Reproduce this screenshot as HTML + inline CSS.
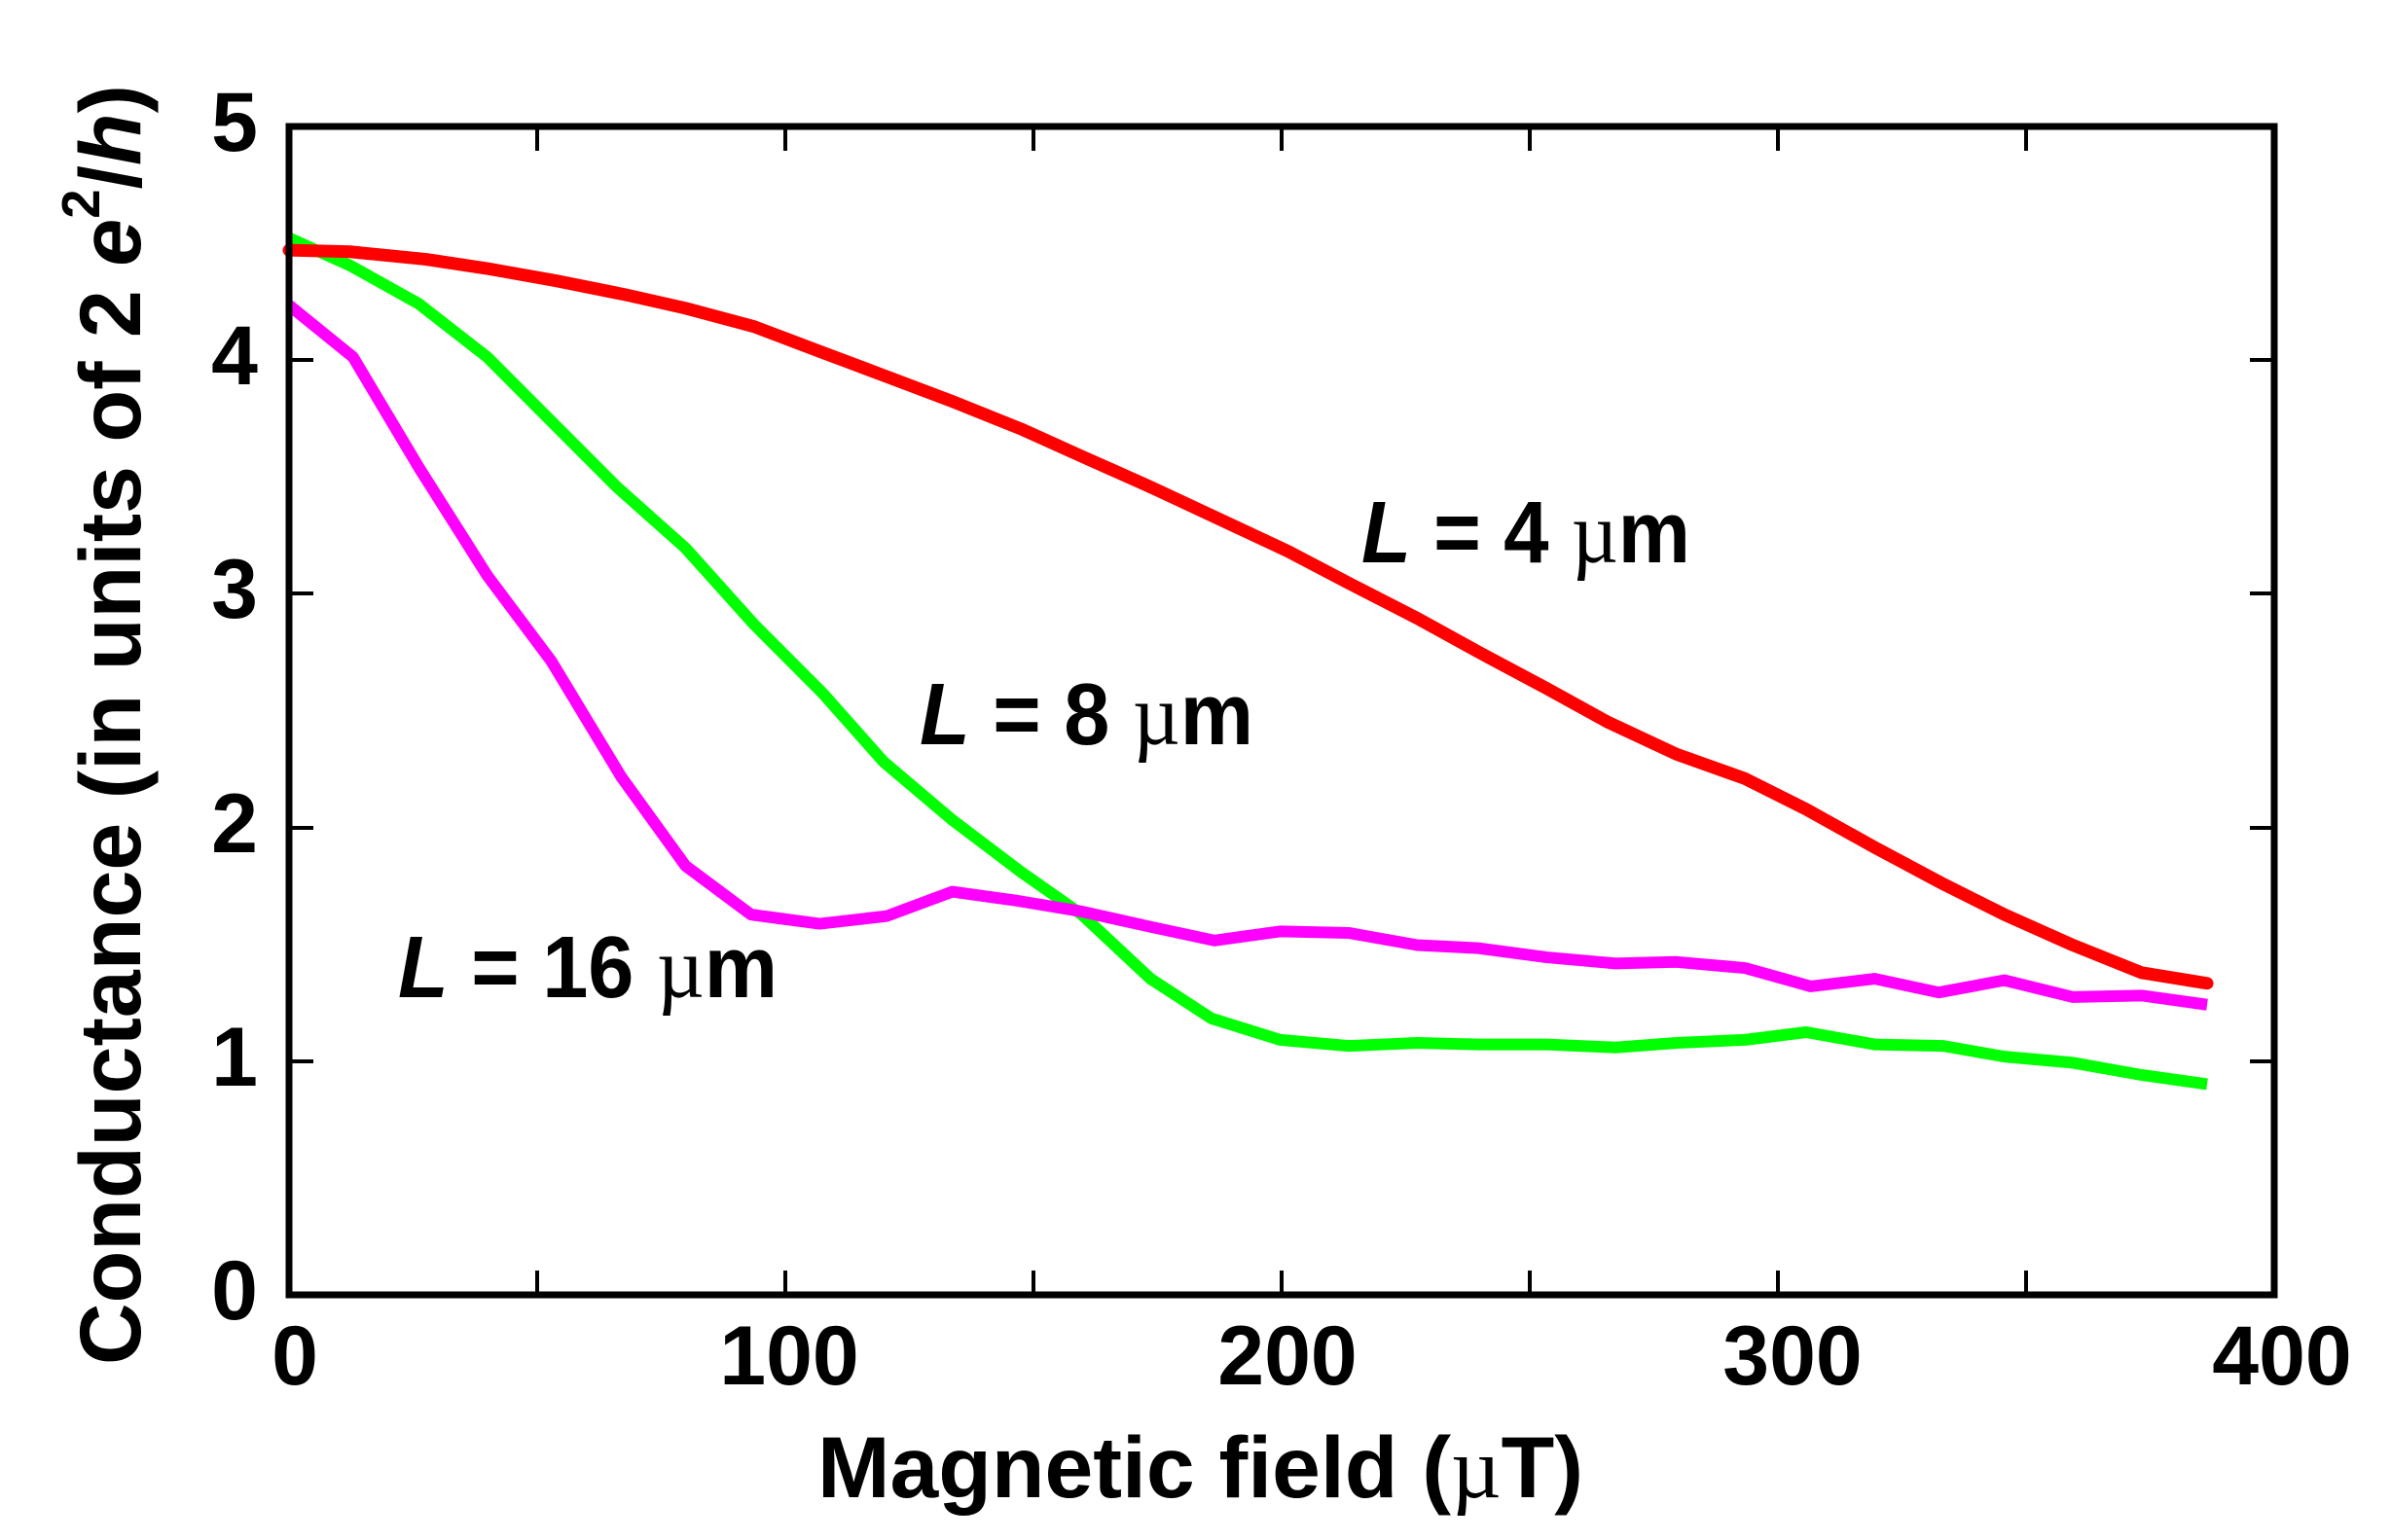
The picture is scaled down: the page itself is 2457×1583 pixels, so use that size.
<!DOCTYPE html>
<html><head><meta charset="utf-8"><style>html,body{margin:0;padding:0;background:#fff}svg{display:block}</style></head>
<body>
<svg width="2457" height="1583" viewBox="0 0 2457 1583" xmlns="http://www.w3.org/2000/svg" font-family="Liberation Sans, sans-serif" font-weight="bold">
<rect width="2457" height="1583" fill="#fff"/>
<g stroke="#000" stroke-width="4">
<line x1="552" y1="1331" x2="552" y2="1306"/><line x1="807" y1="1331" x2="807" y2="1306"/><line x1="1062" y1="1331" x2="1062" y2="1306"/><line x1="1317" y1="1331" x2="1317" y2="1306"/><line x1="1572" y1="1331" x2="1572" y2="1306"/><line x1="1827" y1="1331" x2="1827" y2="1306"/><line x1="2082" y1="1331" x2="2082" y2="1306"/>
<line x1="552" y1="130" x2="552" y2="155"/><line x1="807" y1="130" x2="807" y2="155"/><line x1="1062" y1="130" x2="1062" y2="155"/><line x1="1317" y1="130" x2="1317" y2="155"/><line x1="1572" y1="130" x2="1572" y2="155"/><line x1="1827" y1="130" x2="1827" y2="155"/><line x1="2082" y1="130" x2="2082" y2="155"/>
<line x1="297" y1="1091" x2="322" y2="1091"/><line x1="297" y1="851" x2="322" y2="851"/><line x1="297" y1="610" x2="322" y2="610"/><line x1="297" y1="370" x2="322" y2="370"/>
<line x1="2337" y1="1091" x2="2312" y2="1091"/><line x1="2337" y1="851" x2="2312" y2="851"/><line x1="2337" y1="610" x2="2312" y2="610"/><line x1="2337" y1="370" x2="2312" y2="370"/>
</g>
<g transform="matrix(1.5668,0,0,1.570,-0.7,-1.88)" fill="none" stroke-linejoin="round">
<polyline vector-effect="non-scaling-stroke" stroke="#00ff00" stroke-width="12" points="190,157 230,175 275,200 320,235 360,275 405,320 450,360 495,410 540,455 580,500 625,538 670,572 710,600 755,642 795,668 840,682 885,686 930,684 970,685 1015,685 1060,687 1100,684 1145,682 1185,677 1230,685 1275,686 1315,693 1360,697 1405,705 1448,711"/>
<polyline vector-effect="non-scaling-stroke" stroke="#ff00ff" stroke-width="12" points="190,201 232,235 275,307 320,378 362,434 408,510 450,568 493,600 538,606 582,601 625,585 668,591 710,598 755,608 797,617 840,611 885,612 930,620 970,622 1015,628 1060,632 1100,631 1145,635 1188,647 1230,642 1272,651 1315,643 1360,654 1405,653 1448,659"/>
<polyline vector-effect="non-scaling-stroke" stroke="#ff0000" stroke-width="13" stroke-linecap="round" points="190,165 230,166 280,171 320,177 365,185 410,194 450,203 495,215 540,232 580,247 625,264 670,282 710,300 755,320 800,341 845,362 885,383 930,406 970,428 1015,452 1055,474 1100,495 1145,511 1185,531 1230,556 1275,580 1315,600 1360,620 1405,638 1448,645"/>
</g>
<rect x="297" y="130" width="2040" height="1201" fill="none" stroke="#000" stroke-width="7"/>
<g font-size="86" text-anchor="end">
<text x="265" y="1356">0</text><text x="265" y="1116">1</text><text x="265" y="876">2</text><text x="265" y="635">3</text><text x="265" y="395">4</text><text x="265" y="155">5</text>
</g>
<g font-size="86" text-anchor="middle">
<text x="303" y="1423">0</text><text x="811" y="1423">100</text><text x="1323" y="1423">200</text><text x="1842" y="1423">300</text><text x="2345" y="1423">400</text>
</g>
<text x="840" y="1539" font-size="89" textLength="787" lengthAdjust="spacingAndGlyphs">Magnetic field  (<tspan font-family="Liberation Serif, serif" font-weight="normal">µ</tspan>T)</text>
<text transform="translate(144,1403) rotate(-90)" font-size="89" textLength="1316" lengthAdjust="spacingAndGlyphs">Conductance  (in units of 2 <tspan font-style="italic">e</tspan><tspan font-size="55" dy="-42">2</tspan><tspan dy="42">/</tspan><tspan font-style="italic">h</tspan>)</text>
<text x="1399" y="578" font-size="90" textLength="338" lengthAdjust="spacingAndGlyphs"><tspan font-style="italic">L</tspan> = 4 <tspan font-family="Liberation Serif, serif" font-weight="normal">µ</tspan>m</text>
<text x="945" y="765" font-size="90" textLength="343" lengthAdjust="spacingAndGlyphs"><tspan font-style="italic">L</tspan> = 8 <tspan font-family="Liberation Serif, serif" font-weight="normal">µ</tspan>m</text>
<text x="409" y="1025" font-size="90" textLength="390" lengthAdjust="spacingAndGlyphs"><tspan font-style="italic">L</tspan> = 16 <tspan font-family="Liberation Serif, serif" font-weight="normal">µ</tspan>m</text>
</svg>
</body></html>
